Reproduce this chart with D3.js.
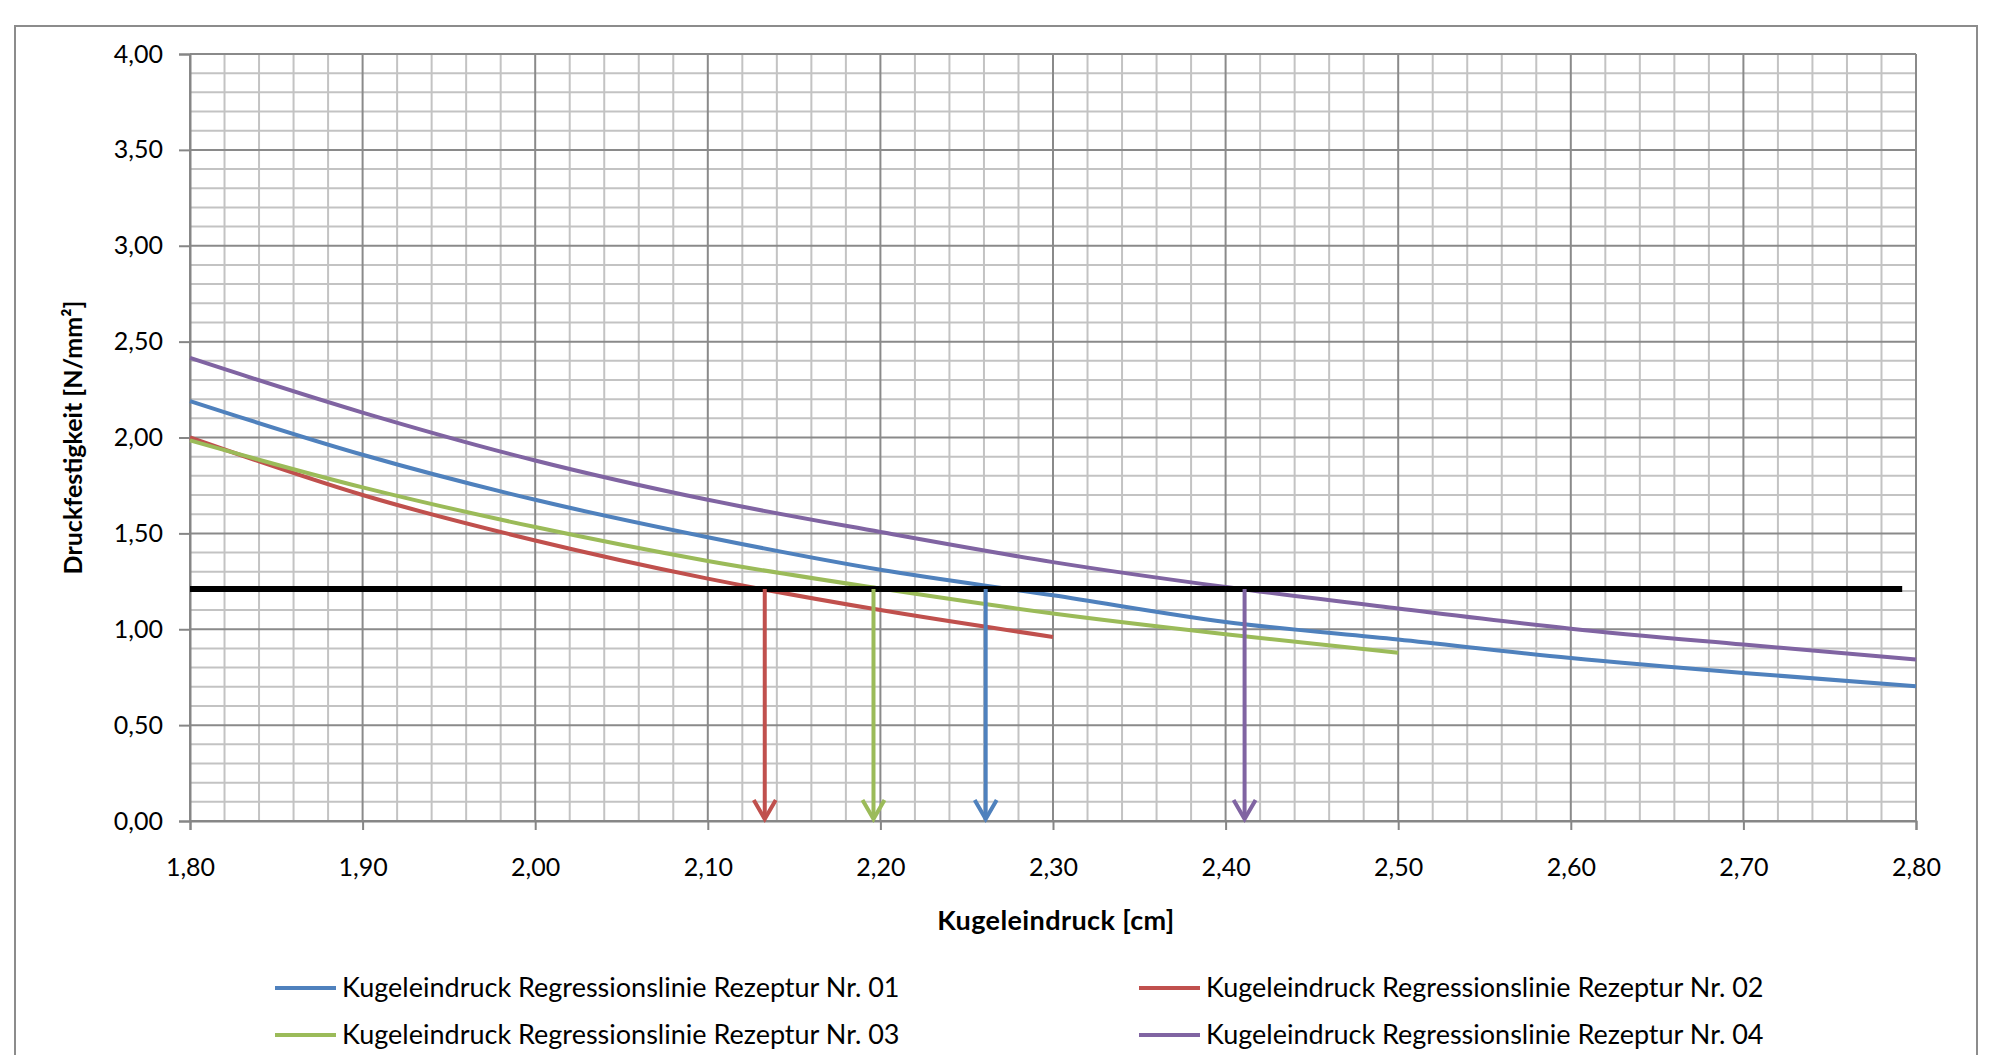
<!DOCTYPE html>
<html>
<head>
<meta charset="utf-8">
<script src="https://cdn.jsdelivr.net/npm/d3@7"></script>
<style>
    body { margin: 0; background: #fff; }
    text { font-family: Lato, "Open Sans", sans-serif; fill: #000; }
</style>
</head>
<body>
<div id="chart"></div>
<script>
// Kugeleindruck values (x axis) and regression lines per Rezeptur
var xValues = [1.80, 1.90, 2.00, 2.10, 2.20, 2.30, 2.40, 2.50, 2.60, 2.70, 2.80];
var rezeptur01 = [2.19, 1.91, 1.675, 1.48, 1.31, 1.177, 1.038, 0.946, 0.85, 0.772, 0.703];
var rezeptur02 = [2.00, 1.70, 1.463, 1.264, 1.10, 0.96];
var rezeptur03 = [1.985, 1.74, 1.533, 1.356, 1.212, 1.082, 0.974, 0.878];
var rezeptur04 = [2.415, 2.13, 1.88, 1.675, 1.507, 1.35, 1.22, 1.108, 1.003, 0.92, 0.842];

var seriesNames = [
    "Kugeleindruck Regressionslinie Rezeptur Nr. 01",
    "Kugeleindruck Regressionslinie Rezeptur Nr. 02",
    "Kugeleindruck Regressionslinie Rezeptur Nr. 03",
    "Kugeleindruck Regressionslinie Rezeptur Nr. 04"
];
var seriesColors = ["#4F81BD", "#C0504D", "#9BBB59", "#8064A2"];

// required strength line and where each curve crosses it
var grenzwert = 1.21;
var grenzEnde = 2.792;
var arrowX = [2.261, 2.133, 2.196, 2.411];   // Nr. 01, 02, 03, 04

var xTicks = [1.80, 1.90, 2.00, 2.10, 2.20, 2.30, 2.40, 2.50, 2.60, 2.70, 2.80];
var yTicks = [0, 0.5, 1.0, 1.5, 2.0, 2.5, 3.0, 3.5, 4.0];

// svg size and plot area
var svgWidth = 1990;
var svgHeight = 1055;
var plot = { left: 190, right: 1916, top: 54, bottom: 821 };

var svg = d3.select("#chart")
    .append("svg")
    .attr("width", svgWidth)
    .attr("height", svgHeight);

// outer chart frame
svg.append("rect")
    .attr("x", 15)
    .attr("y", 26)
    .attr("width", 1962)
    .attr("height", 1060)
    .attr("fill", "none")
    .attr("stroke", "#8c8c8c")
    .attr("stroke-width", 2);

var xScale = d3.scaleLinear().domain([1.8, 2.8]).range([plot.left, plot.right]);
var yScale = d3.scaleLinear().domain([0, 4]).range([plot.bottom, plot.top]);

var de = d3.formatLocale({ decimal: ",", thousands: ".", grouping: [3], currency: ["", " €"] });
var fmt = de.format(".2f");

// minor gridlines
var minorX = d3.range(90).map(i => 1.8 + i * 0.02).filter(v => v < 2.8 && Math.round(v * 100) % 10 !== 0);
var minorY = d3.range(40).map(i => i * 0.1).filter(v => v > 0 && Math.round(v * 10) % 5 !== 0);

var grid = svg.append("g");
grid.selectAll(".minor-x")
    .data(minorX)
    .enter()
    .append("line")
    .attr("x1", d => xScale(d))
    .attr("x2", d => xScale(d))
    .attr("y1", plot.top)
    .attr("y2", plot.bottom)
    .attr("stroke", "#c3c3c3")
    .attr("stroke-width", 2);

grid.selectAll(".minor-y")
    .data(minorY)
    .enter()
    .append("line")
    .attr("x1", plot.left)
    .attr("x2", plot.right)
    .attr("y1", d => yScale(d))
    .attr("y2", d => yScale(d))
    .attr("stroke", "#c3c3c3")
    .attr("stroke-width", 2);

// major gridlines
grid.selectAll(".major-x")
    .data(xTicks)
    .enter()
    .append("line")
    .attr("x1", d => xScale(d))
    .attr("x2", d => xScale(d))
    .attr("y1", plot.top)
    .attr("y2", plot.bottom)
    .attr("stroke", "#8a8a8a")
    .attr("stroke-width", 2);

grid.selectAll(".major-y")
    .data(yTicks)
    .enter()
    .append("line")
    .attr("x1", plot.left)
    .attr("x2", plot.right)
    .attr("y1", d => yScale(d))
    .attr("y2", d => yScale(d))
    .attr("stroke", "#8a8a8a")
    .attr("stroke-width", 2);

// axes
var leftAxis = d3.axisLeft(yScale).tickValues(yTicks).tickFormat(fmt).tickSize(11).tickPadding(16);
var bottomAxis = d3.axisBottom(xScale).tickValues(xTicks).tickFormat(fmt).tickSize(9).tickPadding(28);

var yAxis = svg.append("g")
    .attr("transform", `translate(${plot.left}, 0)`)
    .call(leftAxis);

var xAxis = svg.append("g")
    .attr("transform", `translate(0, ${plot.bottom})`)
    .call(bottomAxis);

[yAxis, xAxis].forEach(function (ax) {
    ax.select(".domain").attr("stroke", "#868686").attr("stroke-width", 2);
    ax.selectAll(".tick line").attr("stroke", "#868686").attr("stroke-width", 2);
    ax.selectAll(".tick text")
        .attr("font-size", 25)
        .attr("font-family", "Lato, sans-serif")
        .attr("fill", "#000");
});

// axis titles
svg.append("text")
    .attr("x", (plot.left + plot.right) / 2 + 3)
    .attr("y", 930)
    .attr("text-anchor", "middle")
    .attr("font-size", 27)
    .attr("font-weight", "bold")
    .attr("letter-spacing", 0.4)
    .text("Kugeleindruck [cm]");

svg.append("text")
    .attr("transform", `translate(82, ${(plot.top + plot.bottom) / 2}) rotate(-90)`)
    .attr("text-anchor", "middle")
    .attr("font-size", 25)
    .attr("font-weight", "bold")
    .text("Druckfestigkeit [N/mm²]");

// regression lines
var allSeries = [rezeptur01, rezeptur02, rezeptur03, rezeptur04];
var line = d3.line()
    .x(d => xScale(d[0]))
    .y(d => yScale(d[1]))
    .curve(d3.curveMonotoneX);

svg.append("g")
    .selectAll("path")
    .data(allSeries)
    .enter()
    .append("path")
    .attr("d", s => line(s.map((v, i) => [xValues[i], v])))
    .attr("fill", "none")
    .attr("stroke", (s, i) => seriesColors[i])
    .attr("stroke-width", 4);

// threshold line
svg.append("line")
    .attr("x1", xScale(1.8))
    .attr("x2", xScale(grenzEnde))
    .attr("y1", yScale(grenzwert))
    .attr("y2", yScale(grenzwert))
    .attr("stroke", "#000")
    .attr("stroke-width", 6);

// arrows down to the x axis
var arrows = svg.append("g")
    .selectAll("g")
    .data(arrowX)
    .enter()
    .append("g")
    .attr("stroke", (d, i) => seriesColors[i])
    .attr("stroke-width", 4)
    .attr("fill", "none");

arrows.append("line")
    .attr("x1", d => xScale(d))
    .attr("x2", d => xScale(d))
    .attr("y1", yScale(grenzwert))
    .attr("y2", yScale(0) - 2);

arrows.append("path")
    .attr("d", d => {
        var ax = xScale(d), ay = yScale(0) - 2;
        return `M${ax - 11},${ay - 19} L${ax},${ay} L${ax + 11},${ay - 19}`;
    });

// legend
var legendPos = [
    { x: 275, y: 988 },
    { x: 1139, y: 988 },
    { x: 275, y: 1035 },
    { x: 1139, y: 1035 }
];

var legend = svg.append("g")
    .selectAll("g")
    .data(seriesNames)
    .enter()
    .append("g")
    .attr("transform", (d, i) => `translate(${legendPos[i].x}, ${legendPos[i].y})`);

legend.append("line")
    .attr("x1", 0)
    .attr("x2", 61)
    .attr("stroke", (d, i) => seriesColors[i])
    .attr("stroke-width", 4);

legend.append("text")
    .attr("x", 67)
    .attr("dy", "0.35em")
    .attr("font-size", 27)
    .text(d => d);
</script>
</body>
</html>
